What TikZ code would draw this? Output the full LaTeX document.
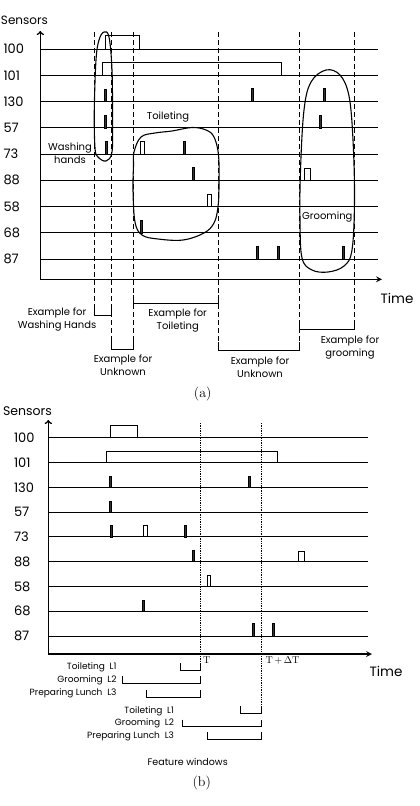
\documentclass[tikz,border=0pt]{standalone}
\usepackage{fontspec}
\usepackage{tikz}
\usetikzlibrary{arrows, positioning}
\newfontfamily\gothic{Poppins}

\begin{document}
\begin{tikzpicture}[x=1pt, y=-1pt, line width=1pt,
    sensor/.style={anchor=west, inner sep=0pt, font=\gothic\fontsize{13}{13}\selectfont},
    note/.style={align=center, inner sep=0pt, font=\gothic\fontsize{10}{13}\selectfont},
    lunch/.style={anchor=east, inner sep=0pt, font=\gothic\fontsize{9}{9}\selectfont},
    spike/.style={fill=black!80, line width=0.5pt},
    window/.style={dash pattern=on 5pt off 3pt, line width=0.9pt},
    feature/.style={densely dotted, line width=1.4pt}]
    \useasboundingbox (0,0) rectangle (420,806);

    % (a) sensor rows and axes
    \foreach \s [count=\i from 0] in {100,101,130,57,73,88,58,68,87} {
        \node[sensor] (a\s) at (3, 49+26.25*\i) {\s};
        \draw (40.3, 49+26.25*\i) -- (378, 49+26.25*\i);
    }
    \node[inner sep=0pt, anchor=west, font=\gothic\fontsize{12}{12}\selectfont] (sensorsA) at (0.5, 20) {Sensors};
    \coordinate (originA) at (40.3, 279.3);
    \coordinate (topA) at (40.3, 31);
    \coordinate (endA) at (382, 279.3);
    \draw[->, line width=1.6pt] (originA) -- (topA);
    \draw[-stealth, line width=1.6pt] (originA) -- (endA);
    \node[inner sep=0pt, font=\gothic\fontsize{13.5}{13.5}\selectfont] (timeA) at (397, 298) {Time};

    % (a) sensor events
    \draw (105, 49) rectangle (139, 35.7);
    \draw (102, 75.25) |- (281.7, 62.3) -- (281.7, 75.25);
    \foreach \x/\y/\t in {105.3/101.5/89, 252/101.5/88.7, 324.7/101.5/88.7, 105.7/127.75/115, 320.7/127.75/115,
        106.7/154/141.7, 184.5/154/141.7, 193/180.25/167.3, 141/232.75/220.7, 257.3/259/246.7, 278.2/259/246.7, 343.3/259/246.7}
        \draw[spike] (\x-1, \y) rectangle (\x+1, \t);
    \foreach \x/\w/\y/\t in {140/4.3/154/141.7, 304.3/5.7/180.25/168, 207.8/3.7/206.5/194.3}
        \draw (\x, \y) rectangle (\x+\w, \t);

    % (a) activity loops
    \draw[line width=1.1pt] plot[smooth cycle, tension=0.6] coordinates {(104,32) (109,37) (112,70) (112.5,120) (112,152) (106,161) (98,157) (95,148) (94.3,110) (96,60) (99,40)};
    \draw[line width=1.1pt] plot[smooth cycle, tension=0.6] coordinates {(134,152) (141,137) (155,133) (172,131) (192,127.5) (206,130) (214,137) (218.5,155) (219,185) (218,207) (214,223) (204,233) (183,240) (158,239) (142,235) (135,222) (133,190) (133.5,166)};
    \draw[line width=1.1pt] plot[smooth cycle, tension=0.6] coordinates {(326,70) (340,75) (349,96) (353,140) (354.5,200) (352,250) (344,266) (328,272) (312,270) (302,258) (300,220) (300.5,170) (304,110) (311,82)};
    \node[note] (washing) at (70, 153) {Washing\\hands};
    \node[note] (toileting) at (168, 117.3) {Toileting};
    \node[note] (grooming) at (327.3, 216.7) {Grooming};

    % (a) example windows
    \foreach \x/\e in {94.3/315.5, 111.5/349, 133.3/349, 218.7/350, 299.7/350, 354.5/329.3}
        \draw[window] (\x, 32) -- (\x, \e);
    \foreach \l/\r/\y in {94.3/111.5/315.5, 111.5/133.3/349, 133.3/218.7/303.3, 218.7/299.7/350, 299.7/354.5/329.3}
        \draw (\l, \y-8) -- (\l, \y) -- (\r, \y) -- (\r, \y-8);
    \node[note] (exWash) at (57, 319.5) {Example for\\Washing Hands};
    \node[note] (exUnknownA) at (123, 365.5) {Example for\\Unknown};
    \node[note] (exToilet) at (177.7, 320.5) {Example for\\Toileting};
    \node[note] (exUnknownB) at (260, 367) {Example for\\Unknown};
    \node[note] (exGroom) at (350, 347.5) {Example for\\grooming};
    \node[inner sep=0pt, font=\fontsize{14}{14}\selectfont] (capA) at (202.7, 394) {(a)};

    % (b) sensor rows and axes
    \foreach \s [count=\i from 0] in {100,101,130,57,73,88,58,68,87} {
        \node[sensor] (b\s) at (13.5, 437.7+24.8*\i) {\s};
        \draw (48.3, 437.7+24.8*\i) -- (368.3, 437.7+24.8*\i);
    }
    \node[inner sep=0pt, font=\gothic\fontsize{12.5}{12.5}\selectfont] (sensorsB) at (27.5, 411) {Sensors};
    \coordinate (originB) at (48.3, 654);
    \coordinate (topB) at (48.3, 420);
    \coordinate (endB) at (372, 654);
    \draw[->, line width=1.6pt] (originB) -- (topB);
    \draw[-stealth, line width=1.6pt] (originB) -- (endB);
    \node[inner sep=0pt, font=\gothic\fontsize{13.5}{13.5}\selectfont] (timeB) at (386, 671.7) {Time};

    % (b) sensor events
    \draw (110, 437.7) rectangle (137.3, 425.7);
    \draw (106.7, 462.5) |- (277.3, 451) -- (277.3, 462.5);
    \foreach \x/\y/\t in {110/487.3/476, 249.3/487.3/476, 110/512.1/501, 111.3/536.9/525.7, 185.3/536.9/525.7,
        193/561.7/550.7, 143.3/611.3/600, 253.7/636.1/623.3, 273.3/636.1/623.3}
        \draw[spike] (\x-1, \y) rectangle (\x+1, \t);
    \foreach \x/\w/\y/\t in {143.3/3.7/536.9/525.7, 298.7/5.3/561.7/551, 207/3.3/586.5/575.7}
        \draw (\x, \y) rectangle (\x+\w, \t);

    % (b) feature windows at T and T+dT
    \coordinate (tNowTop) at (200.5, 423);
    \coordinate (tNow) at (200.5, 663);
    \coordinate (tNextTop) at (261.5, 423);
    \coordinate (tNext) at (261.5, 705.5);
    \draw[feature] (tNowTop) -- (tNow);
    \draw[feature] (tNextTop) -- (tNext);
    \node[anchor=west, inner sep=0pt, font=\fontsize{10}{10}\selectfont] (labT) at (202.5, 660) {T};
    \node[anchor=west, inner sep=0pt, font=\fontsize{10}{10}\selectfont] (labTdT) at (265, 660) {T\,+\,$\Delta$T};
    \foreach \l/\r/\y in {180/200.5/670, 122.3/200.5/683, 146.7/200.5/697, 240.7/261.5/713.3, 182.7/261.5/726.7, 207.3/261.5/739.3}
        \draw[line width=0.8pt] (\l, \y-7) -- (\l, \y) -- (\r, \y) -- (\r, \y-7);
    \node[lunch] (toiletA) at (117, 667) {Toileting~~L1};
    \node[lunch] (groomA) at (117, 680) {Grooming~~L2};
    \node[lunch] (lunchA) at (117, 693.3) {Preparing Lunch~~L3};
    \node[lunch] (toiletB) at (174.5, 711) {Toileting~~L1};
    \node[lunch] (groomB) at (174.5, 723.5) {Grooming~~L2};
    \node[lunch] (lunchB) at (174.5, 736.7) {Preparing Lunch~~L3};
    \node[inner sep=0pt, font=\gothic\fontsize{9.5}{9.5}\selectfont] (featureLab) at (187.7, 762.3) {Feature windows};
    \node[inner sep=0pt, font=\fontsize{14}{14}\selectfont] (capB) at (201.7, 783.3) {(b)};
\end{tikzpicture}
\end{document}
